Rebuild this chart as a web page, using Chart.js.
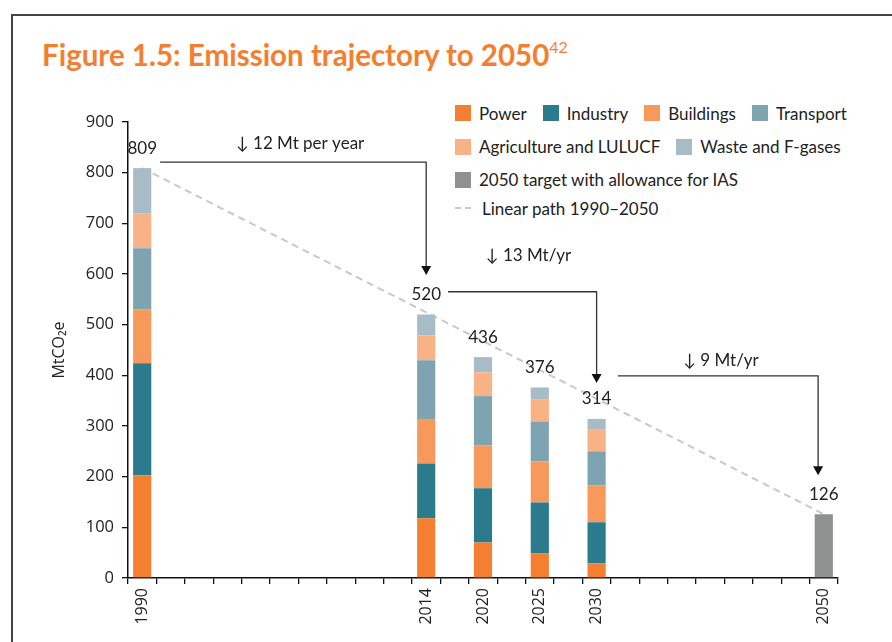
<!DOCTYPE html>
<html>
<head>
<meta charset="utf-8">
<script src="https://cdn.jsdelivr.net/npm/chart.js@4"></script>
<style>
  body { margin: 0; background: #fff; }
  #wrap { position: relative; width: 892px; height: 642px; overflow: hidden; }
  #frame { position: absolute; left: 11px; top: 14px; width: 900px; height: 700px;
           border-top: 2px solid #444; border-left: 2px solid #444; }
  #title { position: absolute; left: 42px; top: 37px; font: bold 29.5px Lato, sans-serif;
           color: #F47E30; white-space: nowrap; }
  #title sup { font-weight: normal; font-size: 16px; vertical-align: 13px; }
  #legend { position: absolute; left: 455px; top: 0; font: 17px Lato, sans-serif; color: #222; }
  .row { position: absolute; left: 0; display: flex; align-items: center; white-space: nowrap; }
  .item { display: flex; align-items: center; margin-right: 16px; }
  .box { width: 16px; height: 16px; margin-right: 8px; }
  .dash { width: 16px; height: 0; border-top: 2px dashed #c8c8c8; margin-right: 11px; }
  canvas { position: absolute; left: 0; top: 0; }
</style>
</head>
<body>
<div id="wrap">
  <div id="frame"></div>
  <div id="title">Figure 1.5: Emission trajectory to 2050<sup>42</sup></div>
  <div id="legend"></div>
  <canvas id="chart" width="892" height="642"></canvas>
</div>
<script>
// 25 slots on the x axis, only some are labelled
const categories = ['1990', '', '', '', '', '', '', '', '', '', '2014', '', '2020', '', '2025', '', '2030', '', '', '', '', '', '', '', '2050'];
const sectorYears = ['1990', '2014', '2020', '2025', '2030'];

// MtCO2e by sector
const power = [203, 118, 70, 49, 29];
const industry = [221, 108, 107, 100, 81];
const buildings = [106, 88, 85, 81, 73];
const transport = [121, 116, 97, 79, 67];
const agriculture = [69, 49, 47, 44, 44];
const waste = [89, 41, 30, 23, 20];

const targetYears = ['2050'];
const target = [126];

const pathYears = ['1990', '2050'];
const linearPath = [809, 126];

const totalYears = ['1990', '2014', '2020', '2025', '2030', '2050'];
const totals = [809, 520, 436, 376, 314, 126];

const yTicks = [0, 100, 200, 300, 400, 500, 600, 700, 800, 900];

function spread(years, values) {
    const arr = categories.map(() => null);
    years.forEach((y, i) => { arr[categories.indexOf(y)] = values[i]; });
    return arr;
}

const sectors = [
    { label: 'Power', data: power, color: '#F47F30' },
    { label: 'Industry', data: industry, color: '#2B7B8C' },
    { label: 'Buildings', data: buildings, color: '#F6995B' },
    { label: 'Transport', data: transport, color: '#7FA4B1' },
    { label: 'Agriculture and LULUCF', data: agriculture, color: '#F9B186' },
    { label: 'Waste and F-gases', data: waste, color: '#A7BCC6' }
];

const datasets = sectors.map(s => ({
    label: s.label,
    data: spread(sectorYears, s.data),
    backgroundColor: s.color,
    stack: 'total',
    order: 0
}));
datasets.push({
    label: '2050 target with allowance for IAS',
    data: spread(targetYears, target),
    backgroundColor: '#8F9191',
    stack: 'total',
    order: 0
});
datasets.push({
    type: 'line',
    label: 'Linear path 1990–2050',
    data: spread(pathYears, linearPath),
    borderColor: '#C8C8C8',
    borderWidth: 2,
    borderDash: [7, 5],
    pointRadius: 0,
    spanGaps: true,
    stack: 'path',
    order: 1
});

// legend in html, 4 rows like the original
const legendRows = [
    { top: 104, items: [0, 1, 2, 3] },
    { top: 137.5, items: [4, 5] },
    { top: 170.5, items: [6] },
    { top: 199, items: [7] }
];
const legendDiv = document.getElementById('legend');
legendRows.forEach(r => {
    const row = document.createElement('div');
    row.className = 'row';
    row.style.top = r.top + 'px';
    row.style.height = '18px';
    r.items.forEach(i => {
        const ds = datasets[i];
        const item = document.createElement('div');
        item.className = 'item';
        const mark = document.createElement('span');
        if (ds.type === 'line') {
            mark.className = 'dash';
        } else {
            mark.className = 'box';
            mark.style.background = ds.backgroundColor;
        }
        const txt = document.createElement('span');
        txt.textContent = ds.label;
        item.appendChild(mark);
        item.appendChild(txt);
        row.appendChild(item);
    });
    legendDiv.appendChild(row);
});

// step arrows between milestone years
const steps = [
    { text: '↓ 12 Mt per year', textAt: 3.3, textLevel: 858, from: 0.63, to: 10, level: 821, tip: 598 },
    { text: '↓ 13 Mt/yr', textAt: 12.1, textLevel: 637, from: 10.77, to: 16, level: 565, tip: 385 },
    { text: '↓ 9 Mt/yr', textAt: 19.05, textLevel: 429, from: 16.75, to: 23.8, level: 399, tip: 203 }
];

const annotations = {
    id: 'annotations',
    afterDatasetsDraw(chart) {
        const ctx = chart.ctx;
        const x = chart.scales.x;
        const y = chart.scales.y;
        ctx.save();
        ctx.fillStyle = '#222';
        ctx.font = '17px Lato, sans-serif';
        ctx.textAlign = 'center';
        ctx.textBaseline = 'middle';
        totalYears.forEach((yr, i) => {
            const px = x.getPixelForValue(categories.indexOf(yr));
            ctx.fillText(String(totals[i]), px, y.getPixelForValue(totals[i]) - 20);
        });

        steps.forEach(s => {
            const x0 = x.getPixelForValue(s.from);
            const x1 = x.getPixelForValue(s.to);
            const yl = y.getPixelForValue(s.level);
            const yt = y.getPixelForValue(s.tip);
            ctx.strokeStyle = '#333';
            ctx.lineWidth = 1.3;
            ctx.beginPath();
            ctx.moveTo(x0, yl);
            ctx.lineTo(x1, yl);
            ctx.lineTo(x1, yt - 8);
            ctx.stroke();
            ctx.fillStyle = '#111';
            ctx.beginPath();
            ctx.moveTo(x1 - 5, yt - 9);
            ctx.lineTo(x1 + 5, yt - 9);
            ctx.lineTo(x1, yt);
            ctx.closePath();
            ctx.fill();
            ctx.fillStyle = '#222';
            ctx.textAlign = 'left';
            ctx.fillText(s.text, x.getPixelForValue(s.textAt), y.getPixelForValue(s.textLevel));
        });
        ctx.restore();
    }
};

Chart.defaults.font.family = '"Open Sans", sans-serif';
Chart.defaults.color = '#222';

new Chart(document.getElementById('chart').getContext('2d'), {
    type: 'bar',
    data: { labels: categories, datasets: datasets },
    options: {
        responsive: false,
        animation: false,
        barPercentage: 0.8,
        categoryPercentage: 0.8,
        layout: { padding: { left: 50, right: 54, top: 122, bottom: 16 } },
        plugins: {
            legend: { display: false },
            tooltip: { enabled: false }
        },
        scales: {
            x: {
                stacked: true,
                afterFit(scale) { scale.height = 48; },
                border: { display: true, color: '#111', width: 1.5 },
                grid: { offset: true, drawOnChartArea: false, drawTicks: true, tickLength: 6, color: '#111', lineWidth: 1.3 },
                ticks: { autoSkip: false, minRotation: 90, maxRotation: 90, padding: 4, font: { size: 16 }, color: '#222' }
            },
            y: {
                stacked: true,
                min: 0,
                max: 900,
                afterFit(scale) { scale.width = 78; },
                afterBuildTicks(scale) { scale.ticks = yTicks.map(v => ({ value: v })); },
                border: { display: true, color: '#111', width: 1.5 },
                grid: { drawOnChartArea: false, drawTicks: true, tickLength: 6, color: '#111', lineWidth: 1.3 },
                ticks: { padding: 8, font: { size: 16.5 }, color: '#222' },
                title: { display: true, text: 'MtCO₂e', font: { size: 16 }, color: '#222', padding: { top: 0, bottom: 2 } }
            }
        }
    },
    plugins: [annotations]
});
</script>
</body>
</html>
